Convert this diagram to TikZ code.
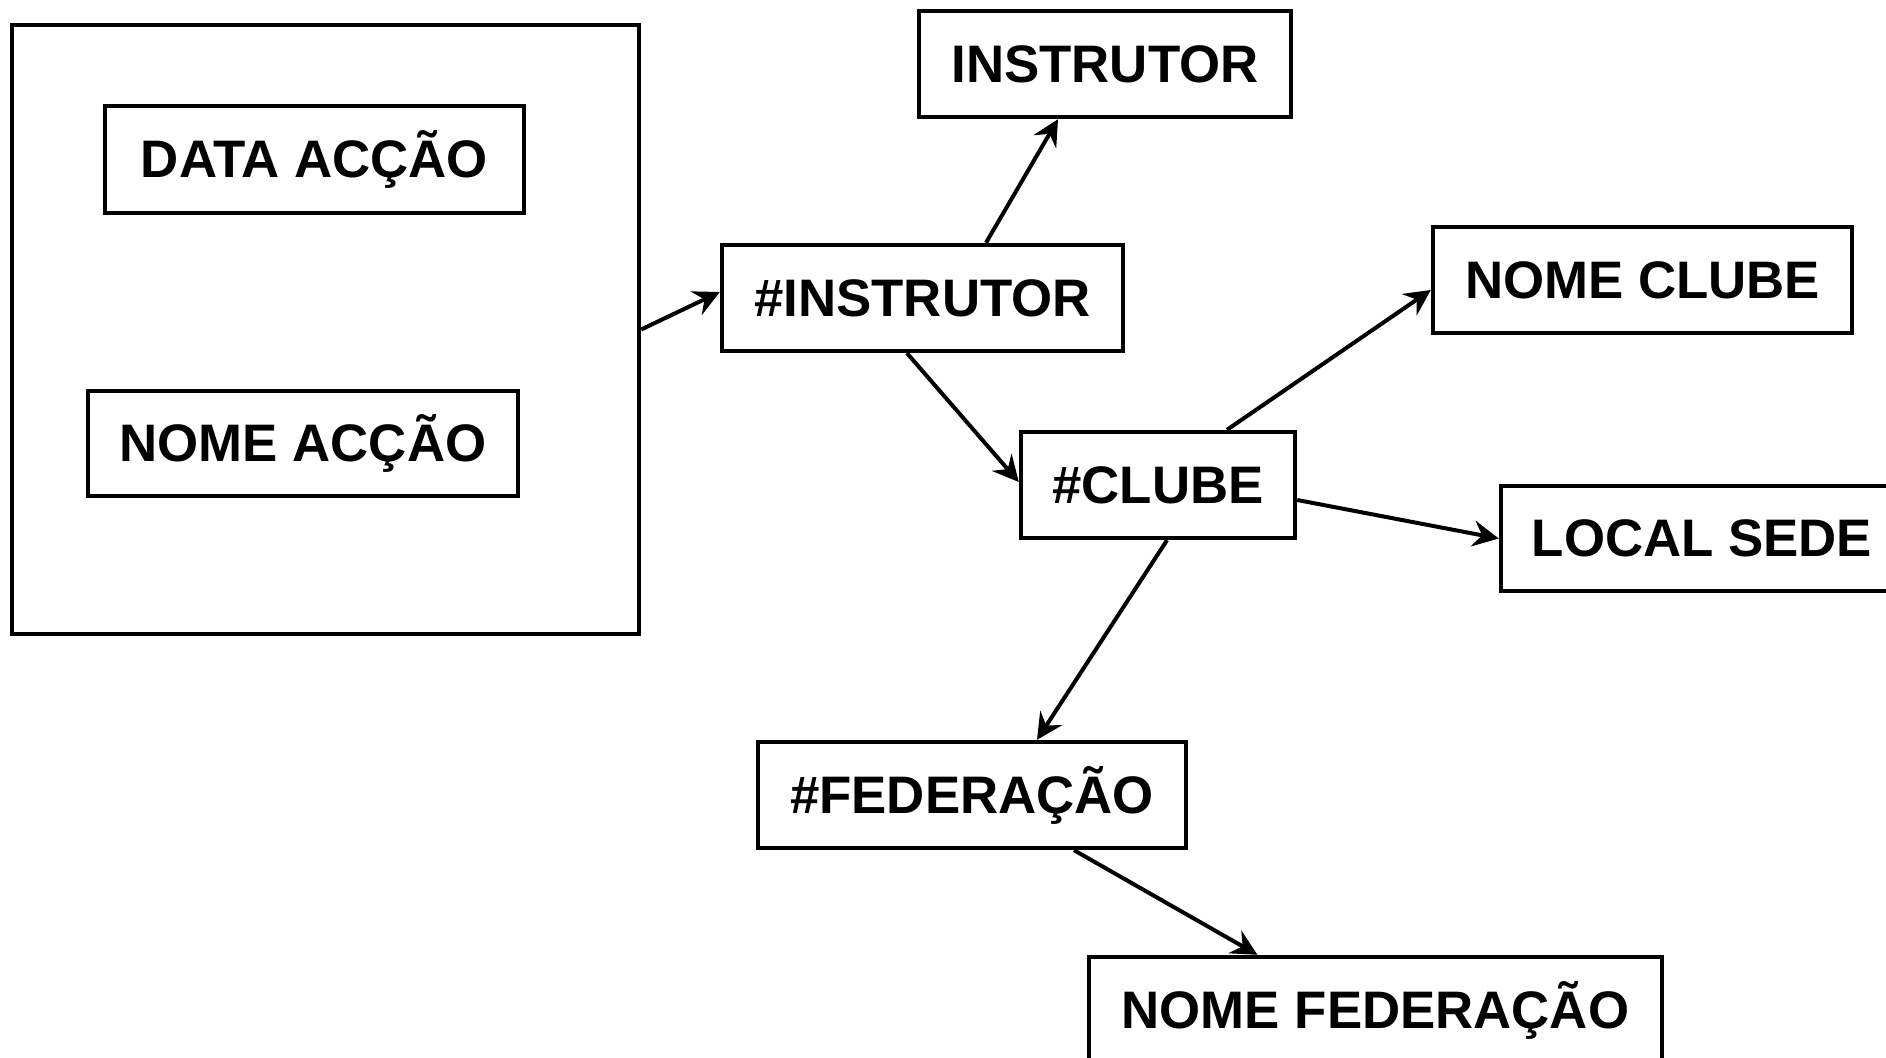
\documentclass[tikz,border=0pt]{standalone}
\usepackage{fontspec}
\setmainfont{Liberation Sans}
\usepackage{tikz}
\usetikzlibrary{positioning, arrows.meta}
\tikzset{
    attrbox/.style={rectangle, draw, line width=2.2pt, inner sep=0pt, font=\fontsize{26.4}{30}\selectfont\bfseries},
    groupbox/.style={rectangle, draw, line width=2.2pt, inner sep=0pt},
    link/.style={line width=2pt, -{Stealth[length=13pt, width=13pt, inset=4.5pt]}}
}
\begin{document}
\begin{tikzpicture}[x=0.5pt, y=-0.5pt]
    \useasboundingbox (0,0) rectangle (1886,1058);
    \clip (0,0) rectangle (1886,1058);
    % accao group
    \node[groupbox, minimum width=313.5pt, minimum height=304.5pt] (acao) at (325.5,329.5) {};
    \node[attrbox, minimum width=209.5pt, minimum height=53.5pt] (dataacao) at (314.5,159.5) {DATA ACÇÃO};
    \node[attrbox, minimum width=215pt, minimum height=52.5pt] (nomeacao) at (303,443.5) {NOME ACÇÃO};
    % keys and attributes
    \node[attrbox, minimum width=186pt, minimum height=53pt] (instrutor) at (1105,64) {INSTRUTOR};
    \node[attrbox, minimum width=200.5pt, minimum height=53pt] (ninstrutor) at (922.5,298) {\#INSTRUTOR};
    \node[attrbox, minimum width=209.5pt, minimum height=53pt] (nomeclube) at (1642.5,280) {NOME CLUBE};
    \node[attrbox, minimum width=137pt, minimum height=53pt] (nclube) at (1158,485) {\#CLUBE};
    \node[attrbox, minimum width=201pt, minimum height=52.5pt] (localsede) at (1702,538.5) {LOCAL SEDE};
    \node[attrbox, minimum width=214pt, minimum height=53pt] (nfederacao) at (972,795) {\#FEDERAÇÃO};
    \node[attrbox, minimum width=286.5pt, minimum height=53pt] (nomefederacao) at (1375.5,1010) {NOME FEDERAÇÃO};
    % connectors
    \draw[link] (acao.east) -- ([yshift=3pt]ninstrutor.west);
    \draw[link] ([xshift=31.75pt]ninstrutor.north) -- ([xshift=-23.5pt]instrutor.south);
    \draw[link] ([xshift=-7.75pt]ninstrutor.south) -- ([yshift=1.5pt]nclube.west);
    \draw[link] ([xshift=34.5pt]nclube.north) -- ([yshift=-5pt]nomeclube.west);
    \draw[link] ([yshift=-7.5pt]nclube.east) -- (localsede.west);
    \draw[link] ([xshift=4.5pt]nclube.south) -- ([xshift=32.5pt]nfederacao.north);
    \draw[link] ([xshift=51pt]nfederacao.south) -- ([xshift=-59pt]nomefederacao.north);
\end{tikzpicture}
\end{document}
